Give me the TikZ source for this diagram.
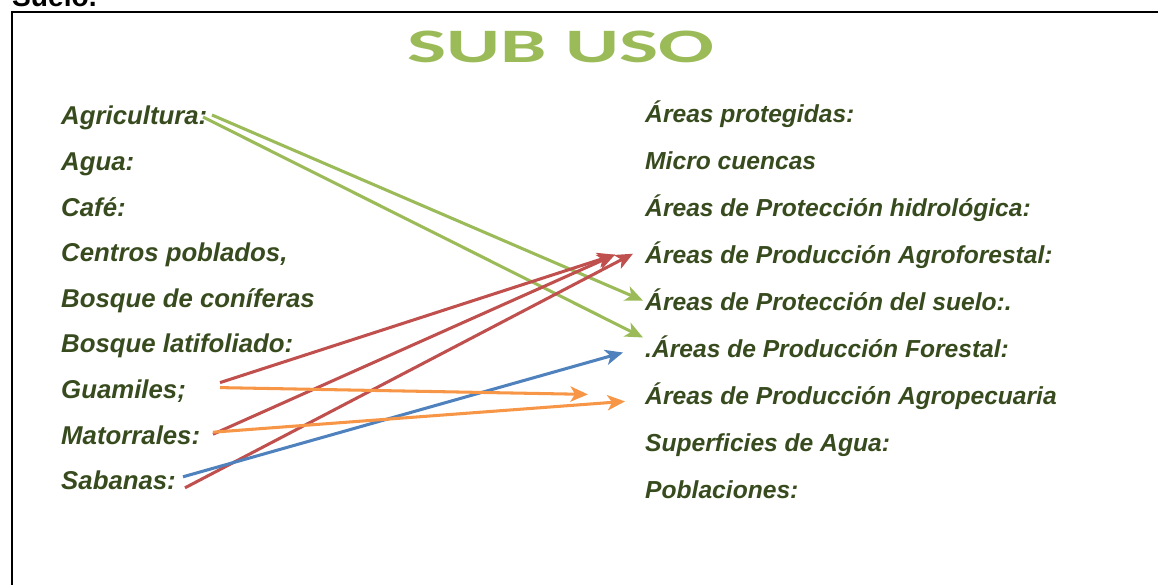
\documentclass[tikz,border=0pt]{standalone}
\usepackage{fontspec}
\setmainfont{Liberation Sans}
\newfontfamily\wordart{Carlito}
\usetikzlibrary{calc, arrows.meta}
\definecolor{txt}{RGB}{55,75,30}
\definecolor{titulo}{RGB}{155,187,89}
\definecolor{gnet}{RGB}{155,187,89}
\definecolor{rnet}{RGB}{192,80,77}
\definecolor{bnet}{RGB}{79,129,189}
\definecolor{onet}{RGB}{247,150,70}
\tikzset{
  uso/.style={anchor=west, inner sep=0pt, text=txt,
    font=\fontsize{22pt}{26pt}\selectfont\bfseries\itshape,
    text height=20pt, text depth=3pt},
  subuso/.style={uso, font=\fontsize{21pt}{25pt}\selectfont\bfseries\itshape},
  flecha/.style={line width=2.6pt, -{Stealth[length=15pt, width=13pt, inset=4pt]}},
}

\begin{document}
\begin{tikzpicture}[x=0.03cm, y=-0.03cm]
  \useasboundingbox (0,0) rectangle (1158,584);
  \clip (0,0) rectangle (1158,584);

  % ---------- frame (runs off the page) ----------
  \node[anchor=base west, inner sep=0pt, font=\fontsize{24pt}{28pt}\selectfont\bfseries] (cab) at (12,6) {Suelo.};
  \draw[line width=1.7pt] (12,600) -- (12,12) -- (1170,12);

  % ---------- title ----------
  \node[text=titulo, inner sep=0pt, font=\wordart\fontsize{41pt}{44pt}\selectfont\bfseries] (titulo) at (561,47)
    {\scalebox{1.72}[1]{SUB USO}};

  % ---------- uso (left column) ----------
  \foreach \n/\t [count=\i from 0] in {agri/Agricultura:, agua/Agua:, cafe/Café:,
      {cpob/Centros poblados,}, bcon/Bosque de coníferas, blat/Bosque latifoliado:,
      guam/Guamiles;, mat/Matorrales:, sab/Sabanas:}{
    \node[uso] (\n) at (61,{115+45.6*\i}) {\t};}

  % ---------- sub uso (right column) ----------
  \foreach \n/\t [count=\i from 0] in {prot/Áreas protegidas:, micro/Micro cuencas,
      hidro/Áreas de Protección hidrológica:, agrof/Áreas de Producción Agroforestal:,
      psuelo/Áreas de Protección del suelo:., forest/.Áreas de Producción Forestal:,
      agrop/Áreas de Producción Agropecuaria, sagua/Superficies de Agua:,
      pobl/Poblaciones:}{
    \node[subuso] (\n) at (645,{113+46.9*\i}) {\t};}

  % ===== green: Agricultura =====
  \draw[flecha, gnet] ($(agri.west)+(151,0)$) -- ($(psuelo.west)+(-2,0)$);
  \draw[flecha, gnet] ($(agri.west)+(142,2)$) -- ($(forest.west)+(-2,-10)$);

  % ===== red: to Agroforestal =====
  \draw[flecha, rnet] ($(guam.west)+(159,-6)$) -- ($(agrof.west)+(-30,1)$);
  \draw[flecha, rnet] ($(mat.west)+(152,0)$)   -- ($(agrof.west)+(-30,1)$);
  \draw[flecha, rnet] ($(sab.west)+(124,8)$)   -- ($(agrof.west)+(-12,0)$);

  % ===== blue: Sabanas =====
  \draw[flecha, bnet] ($(sab.west)+(122,-3)$) -- ($(forest.west)+(-22,5)$);

  % ===== orange: to Agropecuaria =====
  \draw[flecha, onet] ($(guam.west)+(159,-1)$) -- ($(agrop.west)+(-57,0)$);
  \draw[flecha, onet] ($(mat.west)+(152,-2)$)  -- ($(agrop.west)+(-20,7)$);

\end{tikzpicture}
\end{document}
